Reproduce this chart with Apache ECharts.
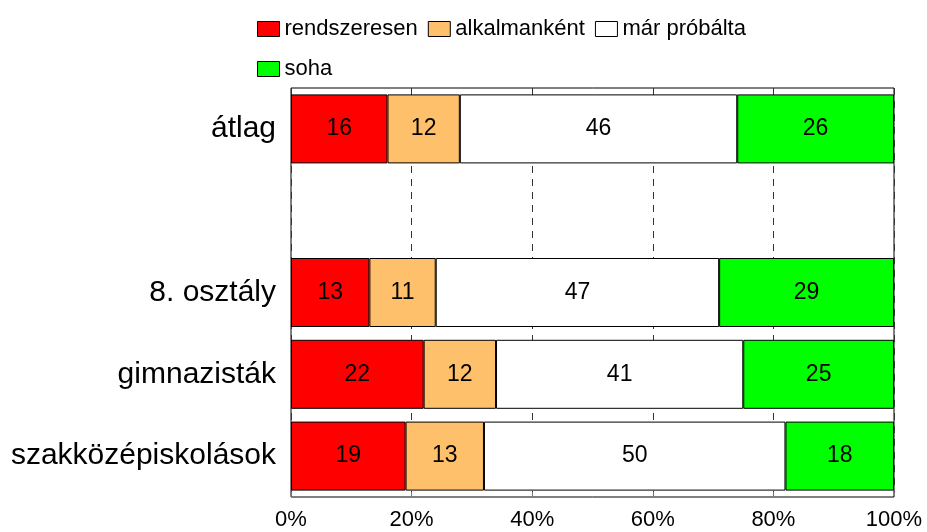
<!DOCTYPE html>
<html>
<head>
<meta charset="utf-8">
<script src="https://cdn.jsdelivr.net/npm/echarts@6/dist/echarts.min.js"></script>
<style>
  html, body { margin: 0; padding: 0; background: #fff; }
  #chart { width: 927px; height: 532px; }
</style>
</head>
<body>
<div id="chart"></div>
<script>
// categories, top to bottom (the empty one is the gap row)
var categories = ['átlag', '', '8. osztály', 'gimnazisták', 'szakközépiskolások'];

var rendszeresen = [16, null, 13, 22, 19];
var alkalmankent = [12, null, 11, 12, 13];
var marProbalta = [46, null, 47, 41, 50];
var soha = [26, null, 29, 25, 18];

var xTicks = [0, 20, 40, 60, 80, 100];

var font = 'Liberation Sans, Arial, sans-serif';

function makeSeries(name, data, color) {
    return {
        name: name,
        type: 'bar',
        stack: 'total',
        barWidth: 69,
        data: data,
        itemStyle: { color: color, borderColor: '#000', borderWidth: 1 },
        label: {
            show: true,
            position: 'inside',
            color: '#000',
            fontSize: 23,
            fontFamily: font
        }
    };
}

var chart = echarts.init(document.getElementById('chart'));
chart.setOption({
    backgroundColor: '#fff',
    animation: false,
    legend: [{
        left: 252,
        top: 13,
        itemWidth: 22,
        itemHeight: 15,
        itemGap: 10,
        icon: 'rect',
        textStyle: { fontSize: 22, fontFamily: font, color: '#000' },
        itemStyle: { borderColor: '#000', borderWidth: 1 },
        data: ['rendszeresen', 'alkalmanként', 'már próbálta']
    }, {
        left: 252,
        top: 53,
        itemWidth: 22,
        itemHeight: 15,
        icon: 'rect',
        textStyle: { fontSize: 22, fontFamily: font, color: '#000' },
        itemStyle: { borderColor: '#000', borderWidth: 1 },
        data: ['soha']
    }],
    grid: {
        left: 291,
        right: 33,
        top: 88,
        bottom: 35,
        show: true,
        borderColor: '#000',
        borderWidth: 1,
        backgroundColor: '#fff'
    },
    xAxis: {
        type: 'value',
        min: xTicks[0],
        max: xTicks[xTicks.length - 1],
        interval: 20,
        axisLine: { show: false },
        axisTick: { show: true, inside: true, length: 5, lineStyle: { color: '#777' } },
        axisLabel: {
            formatter: '{value}%',
            fontSize: 22,
            fontFamily: font,
            color: '#000',
            margin: 12
        },
        splitLine: {
            show: true,
            lineStyle: { color: '#333', type: [7, 6], width: 1 }
        }
    },
    yAxis: {
        type: 'category',
        inverse: true,
        data: categories,
        axisLine: { show: false },
        axisTick: { show: false },
        axisLabel: {
            fontSize: 30,
            fontFamily: font,
            color: '#000',
            margin: 15
        }
    },
    series: [
        makeSeries('rendszeresen', rendszeresen, '#ff0000'),
        makeSeries('alkalmanként', alkalmankent, '#ffc06b'),
        makeSeries('már próbálta', marProbalta, '#ffffff'),
        makeSeries('soha', soha, '#00ff00')
    ]
});
</script>
</body>
</html>
